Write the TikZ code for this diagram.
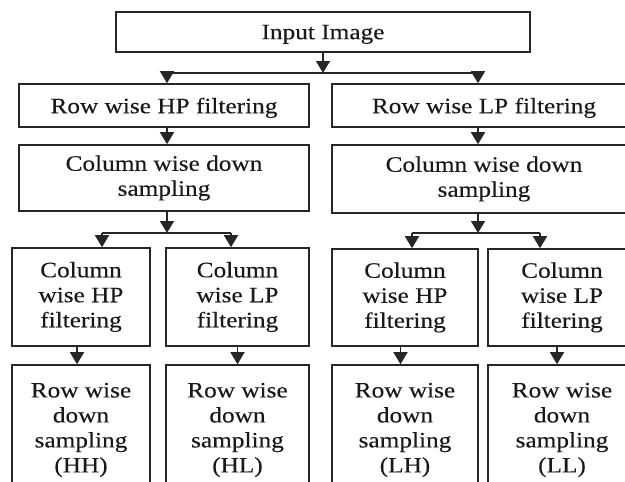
\documentclass[tikz,border=0pt]{standalone}
\usepackage{fontspec}
\setmainfont{Liberation Serif}[FakeStretch=1.15,FakeBold=0.2]
\usetikzlibrary{arrows.meta}
\begin{document}
\begin{tikzpicture}[x=1pt,y=-1pt,
  box/.style={draw=black!85, line width=1.6pt, inner sep=0pt, align=center,
    font=\fontsize{22}{25}\selectfont, text=black!90},
  oneline/.style={text depth=0pt},
  conn/.style={draw=black!85, line width=1.6pt},
  arr/.style={conn, -{Triangle[width=14pt,length=12pt]}}]
\useasboundingbox (0,0) rectangle (625,482);
\clip (0,0) rectangle (625,482);
% boxes
\node[box, oneline, minimum width=414pt, minimum height=40pt] (in) at (323,32) {Input Image};
\node[box, oneline, minimum width=290pt, minimum height=43pt] (rhp) at (164,105.5) {Row wise HP filtering};
\node[box, oneline, minimum width=304pt, minimum height=43pt] (rlp) at (484,105.5) {Row wise LP filtering};
\node[box, minimum width=290pt, minimum height=66pt] (cdl) at (164,178) {Column wise down\\sampling};
\node[box, minimum width=304pt, minimum height=68pt] (cdr) at (484,179) {Column wise down\\sampling};
\node[box, minimum width=138pt, minimum height=98pt] (c1) at (81,297) {Column\\wise HP\\filtering};
\node[box, minimum width=143pt, minimum height=98pt] (c2) at (237.5,297) {Column\\wise LP\\filtering};
\node[box, minimum width=146pt, minimum height=97pt] (c3) at (405,297.5) {Column\\wise HP\\filtering};
\node[box, minimum width=148pt, minimum height=97pt] (c4) at (562,297.5) {Column\\wise LP\\filtering};
\node[box, minimum width=138pt, minimum height=130pt] (d1) at (81,430) {Row wise\\down\\sampling\\(HH)};
\node[box, minimum width=143pt, minimum height=130pt] (d2) at (237.5,430) {Row wise\\down\\sampling\\(HL)};
\node[box, minimum width=146pt, minimum height=130pt] (d3) at (405,430) {Row wise\\down\\sampling\\(LH)};
\node[box, minimum width=148pt, minimum height=130pt] (d4) at (562,430) {Row wise\\down\\sampling\\(LL)};
% junctions
\coordinate (j0) at (323,73);
\coordinate (jL) at (167,73);
\coordinate (jR) at (478,73);
\coordinate (kL) at (167,233);
\coordinate (kL1) at (102,233);
\coordinate (kL2) at (231,233);
\coordinate (kR) at (478,233);
\coordinate (kR1) at (412,233);
\coordinate (kR2) at (540,233);
% connectors
\draw[arr] (in.south) -- (j0);
\draw[conn] (jL) -- (jR);
\draw[arr] (jL) -- (jL |- rhp.north);
\draw[arr] (jR) -- (jR |- rlp.north);
\draw[arr] (jL |- rhp.south) -- (jL |- cdl.north);
\draw[arr] (jR |- rlp.south) -- (jR |- cdr.north);
\draw[arr] (kL |- cdl.south) -- (kL);
\draw[arr] (kR |- cdr.south) -- (kR);
\draw[conn] (kL1) -- (kL2);
\draw[conn] (kR1) -- (kR2);
\draw[arr] (kL1) -- (kL1 |- c1.north);
\draw[arr] (kL2) -- (kL2 |- c2.north);
\draw[arr] (kR1) -- (kR1 |- c3.north);
\draw[arr] (kR2) -- (kR2 |- c4.north);
\draw[arr] ([xshift=-4pt]c1.south) -- ([xshift=-4pt]c1.south |- d1.north);
\draw[arr] (c2.south) -- (c2.south |- d2.north);
\draw[arr] ([xshift=-4.5pt]c3.south) -- ([xshift=-4.5pt]c3.south |- d3.north);
\draw[arr] ([xshift=-5pt]c4.south) -- ([xshift=-5pt]c4.south |- d4.north);
\end{tikzpicture}
\end{document}
